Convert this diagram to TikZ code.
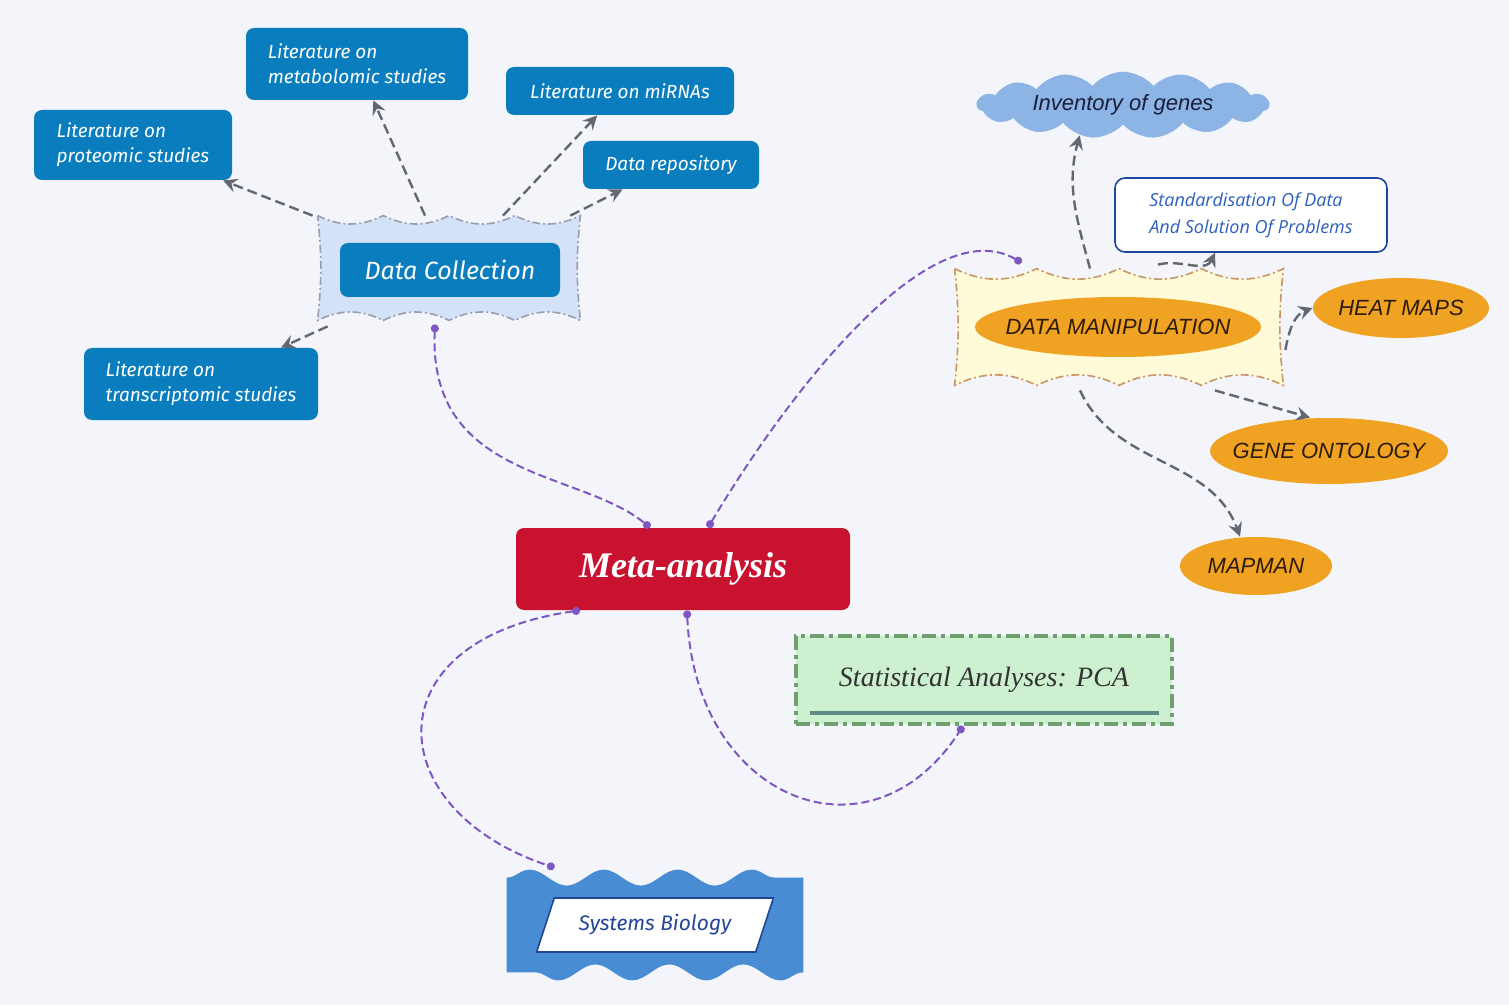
\documentclass[tikz,border=0pt]{standalone}
\usepackage{fontspec}
\setmainfont{Liberation Sans}
\newfontfamily\firafont{Fira Sans}
\newfontfamily\opensfont{Open Sans}
\newfontfamily\seriffont{Liberation Serif}
\usetikzlibrary{positioning, arrows.meta, shapes.geometric, shapes.symbols, decorations.pathmorphing, calc}

\definecolor{bgcol}{RGB}{244,245,250}
\definecolor{litblue}{RGB}{10,125,190}
\definecolor{dcfill}{RGB}{212,226,248}
\definecolor{dcline}{RGB}{150,158,175}
\definecolor{metared}{RGB}{200,18,48}
\definecolor{pcafill}{RGB}{205,240,208}
\definecolor{pcaline}{RGB}{110,160,110}
\definecolor{pcarule}{RGB}{95,140,135}
\definecolor{sbblue}{RGB}{72,140,212}
\definecolor{sbline}{RGB}{35,70,150}
\definecolor{cloudblue}{RGB}{140,180,228}
\definecolor{darknavy}{RGB}{25,30,60}
\definecolor{stdline}{RGB}{30,70,160}
\definecolor{stdtext}{RGB}{45,95,190}
\definecolor{dmfill}{RGB}{255,250,215}
\definecolor{dmline}{RGB}{200,150,100}
\definecolor{dmorange}{RGB}{240,162,35}
\definecolor{dmtext}{RGB}{45,28,10}
\definecolor{arrowgray}{RGB}{100,102,112}
\definecolor{linkpurple}{RGB}{126,87,194}

% scalloped outline round an empty area node
\newcommand{\burst}[2]{%
  \draw[#2] (#1.north west)
    foreach \f in {.25,.5,.75,1}{ to[bend right=26] ($(#1.north west)!\f!(#1.north east)$) }
    to[bend right=6] (#1.south east)
    foreach \f in {.25,.5,.75,1}{ to[bend right=26] ($(#1.south east)!\f!(#1.south west)$) }
    to[bend right=6] (#1.north west) -- cycle;}

\begin{document}
\begin{tikzpicture}[
    x=0.5pt, y=-0.5pt,
    area/.style={rectangle, inner sep=0pt},
    litbox/.style={rectangle, rounded corners=4pt, fill=litblue, text=white, align=left,
        font=\firafont\itshape\fontsize{9.5}{12.5}\selectfont},
    dcbox/.style={litbox, font=\firafont\itshape\fontsize{12.5}{14}\selectfont,
        minimum width=110pt, minimum height=27pt},
    dcburst/.style={fill=dcfill, draw=dcline, line width=0.8pt,
        dash pattern=on 4pt off 1.5pt on 1pt off 1.5pt},
    dmburst/.style={dcburst, fill=dmfill, draw=dmline},
    oval/.style={ellipse, fill=dmorange, text=dmtext, inner xsep=-14pt, inner ysep=0pt,
        font=\itshape\fontsize{11}{13}\selectfont},
    metabox/.style={rectangle, rounded corners=4pt, fill=metared, text=white,
        font=\seriffont\bfseries\itshape\fontsize{18}{20}\selectfont,
        minimum width=167pt, minimum height=41pt},
    pcabox/.style={rectangle, fill=pcafill, draw=pcaline, line width=2pt,
        dash pattern=on 7pt off 2.5pt on 2pt off 2.5pt, text=black!80,
        font=\seriffont\itshape\fontsize{14}{16}\selectfont,
        minimum width=188pt, minimum height=44pt},
    sbpara/.style={trapezium, trapezium left angle=67, trapezium right angle=113,
        trapezium stretches=true, fill=white, draw=sbline, line width=0.8pt,
        minimum width=119pt, minimum height=27pt, text=sbline,
        font=\firafont\itshape\fontsize{10.5}{12}\selectfont},
    cloudnode/.style={cloud, cloud puffs=15, cloud puff arc=100, aspect=6,
        fill=cloudblue, text=darknavy, inner sep=0pt,
        minimum width=146pt, minimum height=22pt,
        font=\itshape\fontsize{11}{13}\selectfont},
    stdbox/.style={rectangle, rounded corners=5pt, fill=white, draw=stdline,
        line width=0.8pt, text=stdtext, align=left,
        minimum width=136pt, minimum height=37pt,
        font=\opensfont\itshape\fontsize{9}{13.5}\selectfont},
    branch/.style={draw=arrowgray, line width=1.2pt, dash pattern=on 5pt off 2.5pt,
        -{Stealth[length=7pt, width=7pt, inset=2.5pt]}},
    link/.style={draw=linkpurple, line width=1pt, dash pattern=on 4pt off 2pt,
        {Circle[length=4pt]}-{Circle[length=4pt]}}
]

\fill[bgcol] (0,0) rectangle (1509,1005);

% === DATA COLLECTION ===
\node[area, minimum width=131pt, minimum height=52pt] (dcarea) at (449,268) {};
\burst{dcarea}{dcburst}
\node[dcbox] (dc) at (450,270) {Data Collection};

\node[litbox, minimum width=99pt, minimum height=35pt] (prot) at (133,145) {Literature on\\proteomic studies};
\node[litbox, minimum width=111pt, minimum height=36pt] (metab) at (357,64) {Literature on\\metabolomic studies};
\node[litbox, minimum width=114pt, minimum height=24pt] (mirna) at (620,91) {Literature on miRNAs};
\node[litbox, minimum width=88pt, minimum height=24pt] (repo) at (671,165) {Data repository};
\node[litbox, minimum width=117pt, minimum height=36pt] (trans) at (201,384) {Literature on\\transcriptomic studies};

\draw[branch] ([xshift=-2.5pt]dcarea.north west) -- (prot);
\draw[branch] ([xshift=-12pt]dcarea.north) -- (metab);
\draw[branch] ([xshift=27pt]dcarea.north) -- (mirna);
\draw[branch] ([xshift=-5pt]dcarea.north east) -- (repo);
\draw[branch] ([shift={(5pt,-3pt)}]dcarea.south west) -- (trans);

% === DATA MANIPULATION ===
\node[area, minimum width=164pt, minimum height=58pt] (dmarea) at (1119,327) {};
\burst{dmarea}{dmburst}
\node[oval, minimum width=143pt, minimum height=30pt] (dm) at (1118,327) {DATA MANIPULATION};

\node[cloudnode] (inv) at (1123,105) {Inventory of genes};
\node[stdbox] (stand) at (1251,215) {Standardisation Of Data\\And Solution Of Problems};
\node[oval, minimum width=88pt, minimum height=30pt] (heat) at (1401,308) {HEAT MAPS};
\node[oval, minimum width=119pt, minimum height=33pt] (gene) at (1329,451) {GENE ONTOLOGY};
\node[oval, minimum width=76pt, minimum height=29pt] (mapman) at (1256,566) {MAPMAN};

\draw[branch] ([xshift=-14.5pt]dmarea.north) to[out=105, in=-105] (inv.-145);
\draw[branch] ([shift={(19.5pt,2pt)}]dmarea.north) to[out=15, in=-115] ([xshift=-18pt]stand.south);
\draw[branch] ([shift={(1pt,-11.5pt)}]dmarea.east) to[out=80, in=200] (heat.west);
\draw[branch] ([shift={(48pt,-2.5pt)}]dmarea.south) -- ([xshift=-9.5pt]gene.north);
\draw[branch] ([shift={(-19.5pt,-2.5pt)}]dmarea.south) to[out=-65, in=110] ([xshift=-8pt]mapman.north);

% === META-ANALYSIS AND BELOW ===
\node[metabox] (meta) at (683,569) {Meta-analysis};

\node[pcabox] (pca) at (984,680) {Statistical Analyses: PCA};
\draw[pcarule, line width=2pt] ([shift={(8pt,6.5pt)}]pca.south west) -- ([shift={(-7.5pt,6.5pt)}]pca.south east);

\node[area, minimum width=148pt, minimum height=47pt] (sbarea) at (655,925) {};
\fill[sbblue] (sbarea.north west)
    decorate[decoration={snake, amplitude=4pt, segment length=37pt}]{-- (sbarea.north east)}
    -- (sbarea.south east)
    decorate[decoration={snake, amplitude=4pt, segment length=37pt}]{-- (sbarea.south west)}
    -- cycle;
\node[sbpara] (sb) at (655,925) {Systems Biology};

% purple links
\draw[link] ([shift={(-7pt,-2pt)}]dcarea.south) .. controls (428,480) and (580,470) .. ([xshift=-16.5pt]meta.north);
\draw[link] ([xshift=12.5pt]meta.north) .. controls (790,390) and (930,210) .. ([shift={(33.5pt,3pt)}]dmarea.north west);
\draw[link] ([xshift=-51.5pt]meta.south) .. controls (370,640) and (380,810) .. ([shift={(24pt,5pt)}]sbarea.north west);
\draw[link] ([xshift=2pt]meta.south) .. controls (695,800) and (870,870) .. ([xshift=-10.5pt]pca.south);

\end{tikzpicture}
\end{document}
